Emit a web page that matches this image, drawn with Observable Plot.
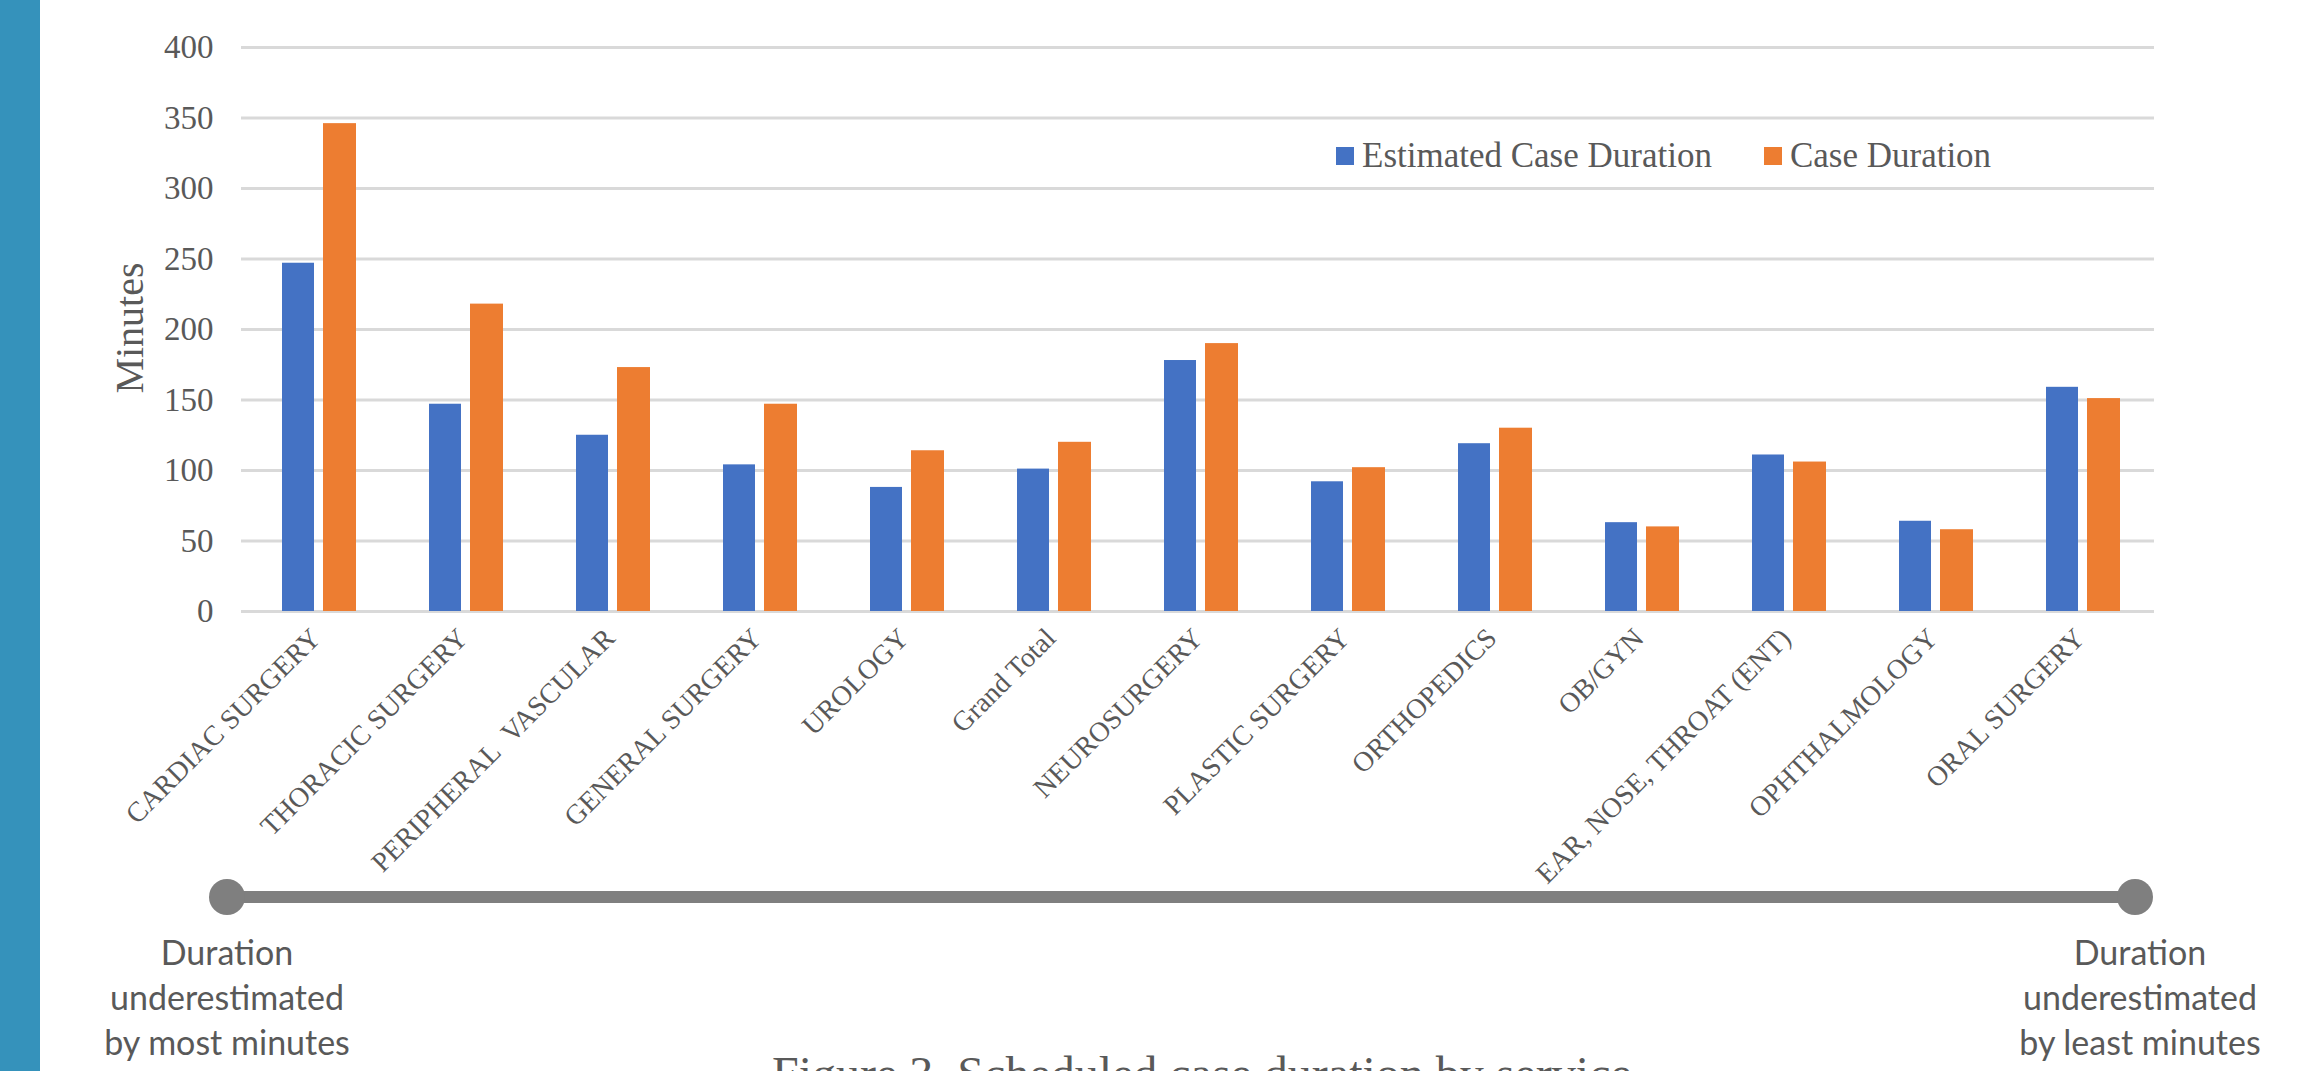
<!DOCTYPE html>
<html>
<head>
<meta charset="utf-8">
<script src="https://cdn.jsdelivr.net/npm/d3@7"></script>
<script src="https://cdn.jsdelivr.net/npm/@observablehq/plot@0.6"></script>
<style>
  html, body { margin: 0; padding: 0; background: #ffffff; }
  body { position: relative; width: 2321px; height: 1071px; overflow: hidden; }
  #stripe { position: absolute; left: 0; top: 0; width: 40px; height: 1071px; background: #3592bb; }
  #chart { position: absolute; left: 0; top: 0; }
  #ylabel {
    position: absolute; left: 129px; top: 328px;
    transform: translate(-50%, -50%) rotate(-90deg);
    font-family: "Liberation Serif", serif; font-size: 40px; color: #595959; white-space: nowrap;
  }
  #legend { position: absolute; left: 1336px; top: 136px; }
  #legend .lg-swatches { margin: 0 !important; min-height: 0 !important; }
  #legend .lg-swatch { margin-right: 52px !important; }
  #legend .lg-swatch > svg { margin-right: 8px !important; }
  .track { position: absolute; left: 227px; top: 891px; width: 1908px; height: 12px; background: #7f7f7f; }
  .knob { position: absolute; width: 36px; height: 36px; border-radius: 50%; background: #7f7f7f; top: 879px; }
  .endnote {
    position: absolute; top: 929px; width: 320px; text-align: center;
    font-family: Lato, "Open Sans", sans-serif; font-size: 34px; line-height: 45px; color: #595959;
  }
  #caption {
    position: absolute; left: 772px; top: 1050px; white-space: nowrap;
    font-family: "Liberation Serif", serif; font-size: 48px; line-height: 48px; color: #595959;
  }
</style>
</head>
<body>
<div id="stripe"></div>
<div id="chart"></div>
<div id="ylabel"></div>
<div id="legend"></div>
<div class="track"></div>
<div class="knob" style="left:209px"></div>
<div class="knob" style="left:2117px"></div>
<div class="endnote" id="noteLeft" style="left:67px"></div>
<div class="endnote" id="noteRight" style="left:1980px"></div>
<div id="caption"></div>
<script>
// Surgical services, ordered from most to least underestimated duration
const services = [
  "CARDIAC SURGERY", "THORACIC SURGERY", "PERIPHERAL\u00a0 VASCULAR", "GENERAL SURGERY",
  "UROLOGY", "Grand Total", "NEUROSURGERY", "PLASTIC SURGERY", "ORTHOPEDICS",
  "OB/GYN", "EAR, NOSE, THROAT (ENT)", "OPHTHALMOLOGY", "ORAL SURGERY"
];
// Mean minutes per case
const estimatedDuration = [247, 147, 125, 104, 88, 101, 178, 92, 119, 63, 111, 64, 159];
const actualDuration    = [346, 218, 173, 147, 114, 120, 190, 102, 130, 60, 106, 58, 151];

const seriesNames  = ["Estimated Case Duration", "Case Duration"];
const seriesColors = ["#4472c4", "#ed7d31"];
const yTicks = [0, 50, 100, 150, 200, 250, 300, 350, 400];

const yTitle = "Minutes";
const leftNote  = ["Duration", "underestimated", "by most minutes"];
const rightNote = ["Duration", "underestimated", "by least minutes"];
const captionText = "Figure 3. Scheduled case duration by service";

const estRows = services.map((s, i) => ({service: s, series: seriesNames[0], minutes: estimatedDuration[i]}));
const actRows = services.map((s, i) => ({service: s, series: seriesNames[1], minutes: actualDuration[i]}));

const textStyle = {fontFamily: "Liberation Serif", fill: "#595959"};

const chart = Plot.plot({
  width: 2321,
  height: 880,
  marginTop: 47,
  marginBottom: 269,
  marginLeft: 241,
  marginRight: 167,
  style: {fontFamily: "Liberation Serif", background: "transparent", overflow: "visible"},
  x: {domain: services, padding: 0},
  y: {domain: [0, 400]},
  color: {domain: seriesNames, range: seriesColors},
  marks: [
    Plot.gridY({ticks: yTicks, stroke: "#d9d9d9", strokeOpacity: 1, strokeWidth: 3}),
    Plot.barY(estRows, {x: "service", y: "minutes", fill: "series", insetLeft: 40, insetRight: 75}),
    Plot.barY(actRows, {x: "service", y: "minutes", fill: "series", insetLeft: 81, insetRight: 33}),
    Plot.axisY({ticks: yTicks, tickSize: 0, tickPadding: 28, fontSize: 33, label: null, ...textStyle}),
    Plot.axisX({tickSize: 0, tickPadding: 22, tickRotate: -45, fontSize: 28, label: null, ...textStyle})
  ]
});
document.getElementById("chart").appendChild(chart);

const legend = chart.legend("color", {
  legend: "swatches",
  swatchSize: 18,
  className: "lg",
  style: {fontFamily: "Liberation Serif", fontSize: "35px", color: "#595959"}
});
document.getElementById("legend").appendChild(legend);

document.getElementById("ylabel").textContent = yTitle;
document.getElementById("noteLeft").innerHTML = leftNote.join("<br>");
document.getElementById("noteRight").innerHTML = rightNote.join("<br>");
document.getElementById("caption").textContent = captionText;
</script>
</body>
</html>
